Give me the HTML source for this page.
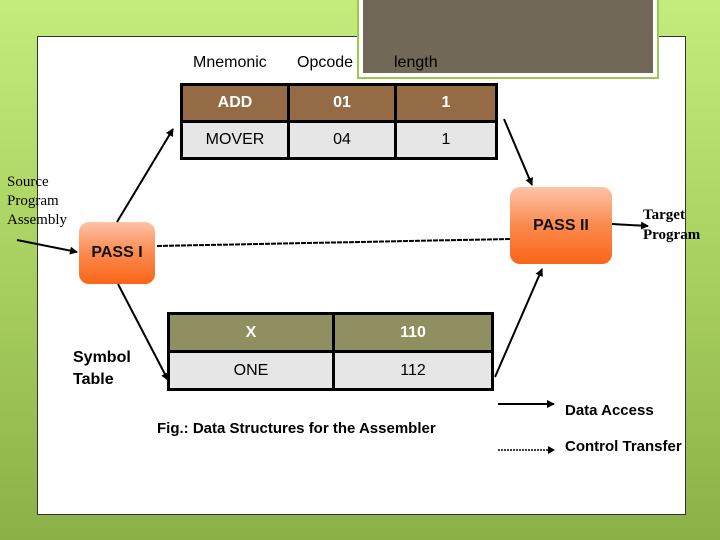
<!DOCTYPE html>
<html><head><style>
body{margin:0;width:720px;height:540px;overflow:hidden;background:linear-gradient(#c4ec7c,#a8d060 50%,#8cb046);font-family:"Liberation Sans",sans-serif;position:relative}
.a{position:absolute}
.panel{left:37px;top:36px;width:647px;height:477px;background:#fff;border:1px solid #333}
.dark{left:359px;top:-4px;width:290px;height:73px;background:#716858;border:4px solid #fff;outline:2px solid #9ac850}
table{border-collapse:collapse;position:absolute;table-layout:fixed}
td{border:3px solid #000;text-align:center;font-size:16px;padding:0}
.pass{background:linear-gradient(#fcc3a8,#fb8a4e 50%,#f96518);border-radius:10px;font-weight:bold;font-size:16px;color:#111;display:flex;align-items:center;justify-content:center}
.serif{font-family:"Liberation Serif",serif;font-size:15px;line-height:19px}
</style></head><body>
<div class="a panel"></div>
<div class="a dark"></div>
<div class="a" style="left:193px;top:54px;font-size:16px">Mnemonic</div>
<div class="a" style="left:297px;top:54px;font-size:16px">Opcode</div>
<div class="a" style="left:394px;top:54px;font-size:16px">length</div>
<table style="left:180px;top:83px;width:318px">
<tr style="height:37px;background:#956b45;color:#fff;font-weight:bold"><td style="width:104px">ADD</td><td style="width:104px">01</td><td>1</td></tr>
<tr style="height:37px;background:#e6e6e6"><td>MOVER</td><td>04</td><td>1</td></tr>
</table>
<table style="left:167px;top:312px;width:327px">
<tr style="height:38px;background:#8f8f62;color:#fff;font-weight:bold"><td style="width:162px">X</td><td>110</td></tr>
<tr style="height:38px;background:#e6e6e6"><td>ONE</td><td>112</td></tr>
</table>
<div class="a pass" style="left:79px;top:222px;width:76px;height:62px">PASS I</div>
<div class="a pass" style="left:510px;top:187px;width:102px;height:77px">PASS II</div>
<div class="a serif" style="left:7px;top:173px">Source<br>Program<br>Assembly</div>
<div class="a serif" style="left:643px;top:205px;font-weight:bold;line-height:20px">Target<br>Program</div>
<div class="a" style="left:73px;top:347px;font-weight:bold;font-size:16px;line-height:22px">Symbol<br>Table</div>
<div class="a" style="left:157px;top:420px;font-weight:bold;font-size:15px">Fig.: Data Structures for the Assembler</div>
<div class="a" style="left:565px;top:402px;font-weight:bold;font-size:15px">Data Access</div>
<div class="a" style="left:565px;top:438px;font-weight:bold;font-size:15px">Control Transfer</div>
<svg class="a" style="left:0;top:0" width="720" height="540">
<defs><marker id="m" markerWidth="8" markerHeight="8" refX="7" refY="4" orient="auto" markerUnits="userSpaceOnUse"><path d="M0,0L8,4L0,8z" fill="#000"/></marker></defs>
<g stroke="#000" stroke-width="2" fill="none" marker-end="url(#m)">
<line x1="17" y1="240" x2="77" y2="252"/>
<line x1="117" y1="222" x2="173" y2="129"/>
<line x1="504" y1="119" x2="532" y2="185"/>
<line x1="118" y1="284" x2="168" y2="380"/>
<line x1="495" y1="377" x2="542" y2="269"/>
<line x1="612" y1="224" x2="648" y2="226"/>
<line x1="498" y1="404" x2="554" y2="404"/>
</g>
<line x1="157" y1="246" x2="510" y2="239" stroke="#000" stroke-width="2" stroke-dasharray="5,1"/>
<line x1="498" y1="450" x2="548" y2="450" stroke="#000" stroke-width="1.5" stroke-dasharray="2,1"/>
<path d="M548,446L555,450L548,454z"/>
</svg>
</body></html>
